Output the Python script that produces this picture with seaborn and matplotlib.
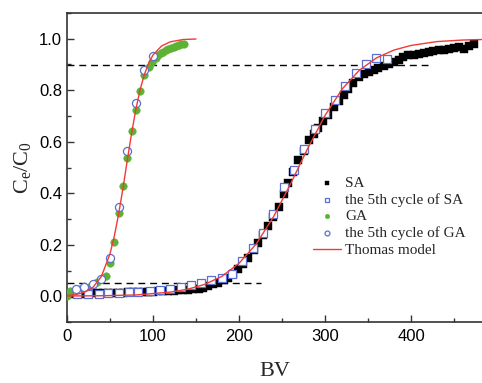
import matplotlib
matplotlib.use("Agg")
import matplotlib.pyplot as plt
import seaborn as sns
import pandas as pd
from matplotlib.ticker import MultipleLocator

# ---------------- data ----------------
SA_x = [7, 13, 19, 24, 30, 36, 42, 48, 54, 59,
        65, 71, 77, 83, 89, 94, 100, 106, 112, 118,
        124, 129, 135, 141, 147, 153, 158, 164, 170, 176,
        182, 187, 193, 199, 205, 211, 217, 222, 228, 234,
        240, 246, 252, 257, 263, 269, 275, 281, 287, 292,
        298, 304, 310, 316, 322, 327, 333, 339, 345, 351,
        357, 362, 368, 374, 380, 386, 391, 397, 403, 409,
        415, 421, 426, 432, 438, 444, 450, 456, 461, 467,
        473]
SA_y = [0.008, 0.009, 0.010, 0.010, 0.011, 0.011, 0.012, 0.012, 0.013, 0.013,
        0.014, 0.015, 0.015, 0.016, 0.017, 0.018, 0.018, 0.019, 0.020, 0.021,
        0.022, 0.023, 0.025, 0.026, 0.028, 0.030, 0.033, 0.040, 0.046, 0.053,
        0.062, 0.072, 0.086, 0.105, 0.125, 0.150, 0.178, 0.205, 0.238, 0.272,
        0.306, 0.348, 0.398, 0.440, 0.483, 0.528, 0.563, 0.607, 0.630, 0.655,
        0.680, 0.705, 0.735, 0.758, 0.783, 0.805, 0.830, 0.853, 0.865, 0.872,
        0.879, 0.885, 0.893, 0.902, 0.910, 0.918, 0.928, 0.935, 0.938, 0.942,
        0.945, 0.949, 0.951, 0.955, 0.958, 0.961, 0.964, 0.968, 0.961, 0.973,
        0.980]

SA5_x = [12, 24, 37, 48, 60, 72, 83, 96, 108, 120, 132, 144, 156, 168, 180, 192,
         203, 216, 228, 240, 252, 264, 276, 288, 300, 312, 323, 336, 348, 359, 372]
SA5_y = [0.007, 0.009, 0.010, 0.011, 0.012, 0.015, 0.017, 0.020, 0.025, 0.030,
         0.037, 0.045, 0.053, 0.062, 0.070, 0.088, 0.135, 0.186, 0.247, 0.319,
         0.425, 0.489, 0.573, 0.651, 0.711, 0.763, 0.818, 0.866, 0.902, 0.925, 0.921]

GA_x = [0, 4, 10, 15, 25, 35, 45, 50, 55, 60, 65, 70, 75, 80, 85, 90, 95, 99,
        103, 106, 109, 112, 115, 118, 121, 124, 127, 130, 133, 136]
GA_y = [0.000, 0.019, 0.024, 0.028, 0.036, 0.055, 0.077, 0.131, 0.210, 0.322,
        0.429, 0.538, 0.641, 0.724, 0.799, 0.860, 0.892, 0.910, 0.925, 0.935,
        0.943, 0.950, 0.955, 0.960, 0.965, 0.968, 0.972, 0.975, 0.978, 0.981]

GA5_x = [10, 20, 30, 40, 50, 60, 70, 80, 90, 100]
GA5_y = [0.027, 0.036, 0.049, 0.067, 0.150, 0.346, 0.563, 0.752, 0.880, 0.932]

# Thomas model curves
TGA_x = [0, 10, 20, 30, 40, 50, 55, 60, 65, 70, 75, 80, 85, 90, 95, 100,
         110, 120, 135, 150]
TGA_y = [0.003, 0.006, 0.015, 0.034, 0.077, 0.165, 0.233, 0.319, 0.418, 0.526,
         0.631, 0.725, 0.802, 0.862, 0.906, 0.937, 0.972, 0.988, 0.997, 0.999]
TSA_x = [0, 40, 80, 120, 140, 160, 180, 200, 220, 240, 260, 280, 300, 320,
         340, 360, 380, 400, 430, 460, 482]
TSA_y = [0.001, 0.002, 0.005, 0.016, 0.027, 0.046, 0.077, 0.128, 0.203, 0.308,
         0.437, 0.575, 0.702, 0.805, 0.878, 0.926, 0.956, 0.974, 0.989, 0.995, 0.997]

# reference levels (dashed lines)
ref_levels = [0.9, 0.05]
ref_ends = [420, 225]

labels = ["SA", "the 5th cycle of SA", "GA", "the 5th cycle of GA", "Thomas model"]

# ---------------- style ----------------
sns.set_theme(style="ticks")
plt.rcParams["font.family"] = ["Liberation Sans", "DejaVu Sans"]
plt.rcParams["mathtext.fontset"] = "custom"
plt.rcParams["mathtext.rm"] = "Liberation Serif"
plt.rcParams["mathtext.it"] = "Liberation Serif"

fig = plt.figure(figsize=(4.82, 3.83), dpi=100)
ax = fig.add_axes([67 / 482, 1 - 322 / 383, 415 / 482, 309 / 383])

blue = "#5b6fd2"
green = "#5cb233"
red = "#f03a35"

for lvl, end in zip(ref_levels, ref_ends):
    ax.plot([0, end], [lvl, lvl], ls=(0, (5, 3.5)), color="black", lw=1.0, zorder=1)

sns.scatterplot(x=SA_x, y=SA_y, ax=ax, marker="s", s=28, color="black",
                edgecolor="black", linewidth=0.3, label=labels[0], zorder=3)
sns.scatterplot(x=SA5_x, y=SA5_y, ax=ax, marker="s", s=30, facecolor="white",
                edgecolor=blue, linewidth=0.9, label=labels[1], zorder=4)
sns.scatterplot(x=GA_x, y=GA_y, ax=ax, marker="o", s=30, color=green,
                edgecolor=green, linewidth=0.3, label=labels[2], zorder=3)
sns.scatterplot(x=GA5_x, y=GA5_y, ax=ax, marker="o", s=34, facecolor="white",
                edgecolor=blue, linewidth=0.9, label=labels[3], zorder=4)
sns.lineplot(x=TSA_x, y=TSA_y, ax=ax, color=red, lw=1.0, label=labels[4],
             zorder=5, sort=True)
sns.lineplot(x=TGA_x, y=TGA_y, ax=ax, color=red, lw=1.0, zorder=5, sort=True)

ax.set_xlim(0, 482.5)
ax.set_ylim(-0.1, 1.1)
ax.xaxis.set_major_locator(MultipleLocator(100))
ax.xaxis.set_minor_locator(MultipleLocator(50))
ax.yaxis.set_major_locator(MultipleLocator(0.2))
ax.yaxis.set_minor_locator(MultipleLocator(0.1))
ax.yaxis.set_major_formatter(matplotlib.ticker.FormatStrFormatter("%.1f"))
ax.tick_params(which="both", direction="in", colors="#333333", labelcolor="black",
               labelsize=12, top=False, right=False)
ax.tick_params(which="major", length=5, width=1.0)
ax.tick_params(which="minor", length=3, width=1.0)
ax.tick_params(axis="x", pad=5)
for sp in ["left", "bottom", "top"]:
    ax.spines[sp].set_color("#333333")
    ax.spines[sp].set_linewidth(1.2)
ax.spines["right"].set_visible(False)

ax.set_xlabel("BV", family="Liberation Serif", fontsize=16, labelpad=13)
ax.set_ylabel(r"C$_\mathrm{e}$/C$_\mathrm{0}$", family="Liberation Serif",
              fontsize=16, labelpad=4)

handles, labs = ax.get_legend_handles_labels()
leg = ax.legend(handles[:5], labs[:5], loc="upper left",
                bbox_to_anchor=((313 - 67) / 415, (322 - 176) / 309),
                frameon=False, prop={"family": "Liberation Serif", "size": 11},
                handlelength=1.8, handletextpad=0.3, labelspacing=0.2,
                borderpad=0, borderaxespad=0, markerscale=0.6)

fig.savefig("out.png", dpi=100)
